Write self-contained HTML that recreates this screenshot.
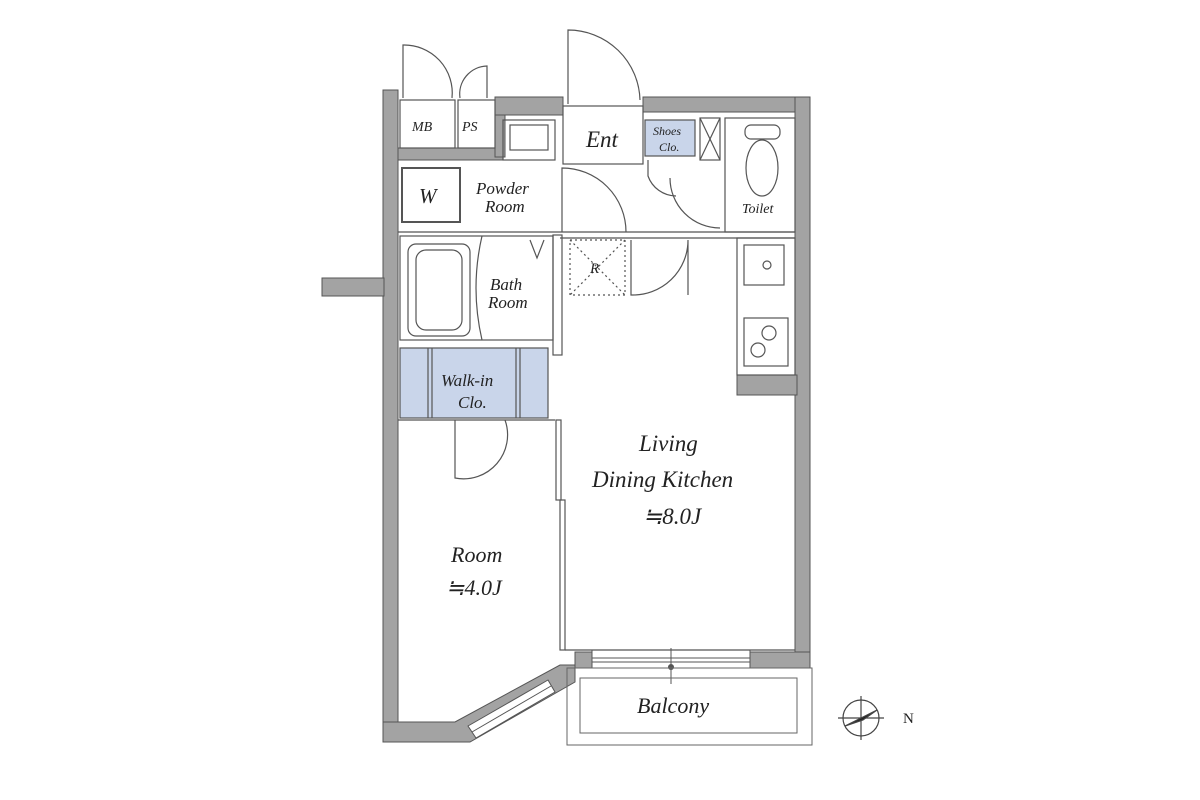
<!DOCTYPE html>
<html><head><meta charset="utf-8"><style>
html,body{margin:0;padding:0;background:#fff;}
svg{display:block}
text{font-family:"Liberation Serif",serif;font-style:italic;fill:#222;}
</style></head><body>
<svg width="1200" height="800" viewBox="0 0 1200 800" xmlns="http://www.w3.org/2000/svg">
<g fill="#a3a3a3" stroke="#555" stroke-width="1">
<rect x="383" y="90" width="15" height="652"/>
<rect x="322" y="278" width="62" height="18"/>
<rect x="398" y="148" width="105" height="12"/>
<rect x="495" y="97" width="10" height="60"/>
<rect x="495" y="97" width="68" height="18"/>
<rect x="643" y="97" width="167" height="15"/>
<rect x="795" y="97" width="15" height="571"/>
<rect x="737" y="375" width="60" height="20"/>
<rect x="575" y="652" width="235" height="16"/>
<polygon points="383,722 455,722 560,665 575,665 575,682 470,742 383,742"/>
</g>
<rect x="592" y="650" width="158" height="18" fill="#fff" stroke="#555"/>
<line x1="592" y1="658" x2="750" y2="658" stroke="#555"/>
<line x1="592" y1="662" x2="750" y2="662" stroke="#555"/>
<line x1="671" y1="648" x2="671" y2="684" stroke="#555"/>
<circle cx="671" cy="667" r="3" fill="#555"/>
<polygon points="468,726 548,680 555,692 476,738" fill="#fff" stroke="#555"/>
<line x1="472" y1="732" x2="551" y2="686" stroke="#555"/>
<rect x="567" y="668" width="245" height="77" fill="none" stroke="#666"/>
<rect x="580" y="678" width="217" height="55" fill="none" stroke="#666"/>
<g fill="none" stroke="#555" stroke-width="1.2">
<rect x="400" y="100" width="55" height="48"/>
<rect x="458" y="100" width="37" height="48"/>
<path d="M403 98 V45 A48 48 0 0 1 452 98"/>
<path d="M487 98 V66 A28 28 0 0 0 460 98"/>
<rect x="503" y="120" width="52" height="40"/>
<rect x="510" y="125" width="38" height="25"/>
<rect x="563" y="106" width="80" height="58"/>
<path d="M568 104 V30 A72 72 0 0 1 640 100"/>
<path d="M562 232 V168 A64 64 0 0 1 626 232" />
<rect x="645" y="120" width="50" height="36" fill="#c9d5ea"/>
<rect x="700" y="118" width="20" height="42"/>
<line x1="700" y1="118" x2="720" y2="160"/><line x1="720" y1="118" x2="700" y2="160"/>
<path d="M648 160 V176 A30 30 0 0 0 676 196"/>
<path d="M720 228 A50 50 0 0 1 670 178"/>
<rect x="725" y="118" width="70" height="114"/>
<rect x="745" y="125" width="35" height="14" rx="6"/>
<ellipse cx="762" cy="168" rx="16" ry="28"/>
<rect x="402" y="168" width="58" height="54" stroke-width="2"/>
<line x1="398" y1="232" x2="795" y2="232"/>
<line x1="560" y1="238" x2="795" y2="238"/>
<rect x="400" y="236" width="153" height="104"/>
<rect x="408" y="244" width="62" height="92" rx="8"/>
<rect x="416" y="250" width="46" height="80" rx="10"/>
<path d="M482 236 Q470 288 482 340"/>
<path d="M530 240 L537 258 L544 240"/>
<rect x="553" y="235" width="9" height="120"/>
<rect x="400" y="348" width="148" height="70" fill="#c9d5ea"/>
<line x1="428" y1="348" x2="428" y2="418"/><line x1="432" y1="348" x2="432" y2="418"/>
<line x1="516" y1="348" x2="516" y2="418"/><line x1="520" y1="348" x2="520" y2="418"/>
<line x1="398" y1="420" x2="555" y2="420"/>
<path d="M455 420 V478 A44 44 0 0 0 505 420"/>
<rect x="556" y="420" width="5" height="80"/>
<rect x="560" y="500" width="5" height="150"/>
<rect x="570" y="240" width="55" height="55" stroke-dasharray="2,3"/>
<line x1="570" y1="240" x2="625" y2="295" stroke-dasharray="2,3"/>
<line x1="625" y1="240" x2="570" y2="295" stroke-dasharray="2,3"/>
<path d="M631 240 V295 A55 55 0 0 0 688 240 V295"/>
<rect x="737" y="238" width="58" height="137"/>
<rect x="744" y="245" width="40" height="40"/>
<circle cx="767" cy="265" r="4"/>
<rect x="744" y="318" width="44" height="48"/>
<circle cx="769" cy="333" r="7"/><circle cx="758" cy="350" r="7"/>
<line x1="565" y1="650" x2="795" y2="650"/>
</g>
<g stroke="#444" stroke-width="1.2" fill="none">
<circle cx="861" cy="718" r="18"/>
<line x1="838" y1="718" x2="884" y2="718"/>
<line x1="861" y1="696" x2="861" y2="740"/>
<polygon points="845,726 877,710 863,720" fill="#222"/>
</g>
<text x="903" y="723" font-size="15" style="font-style:normal">N</text>
<g font-size="17">
<text x="412" y="131" font-size="14">MB</text>
<text x="462" y="131" font-size="14">PS</text>
<text x="586" y="147" font-size="23">Ent</text>
<text x="653" y="135" font-size="12">Shoes</text>
<text x="659" y="151" font-size="12">Clo.</text>
<text x="742" y="213" font-size="14">Toilet</text>
<text x="419" y="203" font-size="21">W</text>
<text x="476" y="194">Powder</text>
<text x="485" y="212">Room</text>
<text x="490" y="290">Bath</text>
<text x="488" y="308">Room</text>
<text x="441" y="386">Walk-in</text>
<text x="458" y="408">Clo.</text>
<text x="590" y="273" font-size="15">R</text>
<text x="639" y="451" font-size="23">Living</text>
<text x="592" y="487" font-size="23">Dining Kitchen</text>
<text x="643" y="524" font-size="23">≒8.0J</text>
<text x="451" y="562" font-size="22">Room</text>
<text x="446" y="595" font-size="22">≒4.0J</text>
<text x="637" y="713" font-size="22">Balcony</text>
</g>
</svg>
</body></html>
